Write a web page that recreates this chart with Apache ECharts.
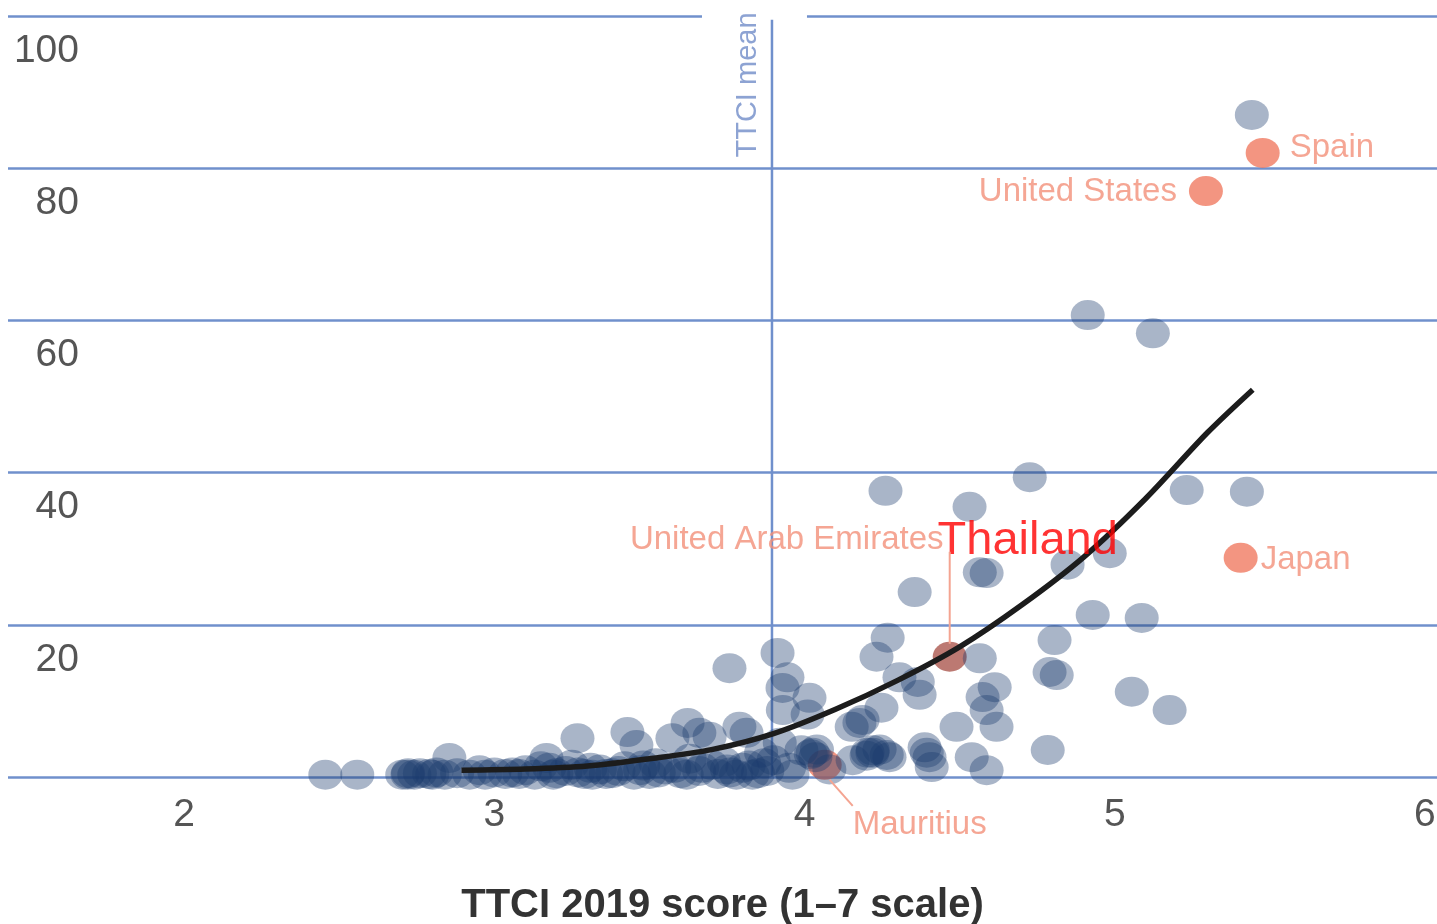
<!DOCTYPE html>
<html>
<head>
<meta charset="utf-8">
<title>TTCI 2019 score vs. tourism</title>
<script src="https://cdn.jsdelivr.net/npm/echarts@6/dist/echarts.min.js"></script>
<style>
  html, body { margin: 0; padding: 0; background: #ffffff; }
  #chart { width: 1437px; height: 924px; }
</style>
</head>
<body>
<div id="chart"></div>
<script>
// Tick values
const xTicks = [2, 3, 4, 5, 6];
const yTicks = [0, 20, 40, 60, 80, 100];

// Mean TTCI score (vertical reference line)
const ttciMean = 3.895;

// All countries: [TTCI score, value]
const countries = [
  [2.455, 0.3], [2.558, 0.3], [2.703, 0.3], [2.72, 0.3], [2.722, 0.5], [2.742, 0.3],
  [2.76, 0.5], [2.79, 0.4], [2.8, 0.3], [2.813, 0.6], [2.84, 0.3], [2.855, 2.5],
  [2.88, 0.5], [2.92, 0.3], [2.952, 0.9], [2.97, 0.3], [3.0, 0.6], [3.035, 0.4],
  [3.058, 0.6], [3.08, 0.4], [3.1, 0.9], [3.13, 0.3], [3.15, 1.4], [3.168, 2.5],
  [3.177, 1.2], [3.19, 0.3], [3.2, 0.5], [3.23, 0.8], [3.25, 1.6], [3.268, 5.1],
  [3.27, 0.6], [3.29, 0.4], [3.31, 1.2], [3.316, 0.3], [3.34, 1.0], [3.36, 0.4],
  [3.38, 0.5], [3.4, 0.8], [3.42, 1.4], [3.429, 5.9], [3.45, 0.3], [3.458, 4.2],
  [3.47, 0.9], [3.48, 1.5], [3.5, 0.4], [3.52, 1.8], [3.53, 0.6], [3.55, 1.0],
  [3.574, 5.1], [3.58, 1.2], [3.6, 0.5], [3.62, 0.3], [3.623, 7.1], [3.63, 2.4],
  [3.661, 5.8], [3.66, 0.8], [3.67, 1.2], [3.694, 5.3], [3.7, 1.6], [3.72, 0.4],
  [3.74, 2.0], [3.75, 1.0], [3.758, 14.3], [3.76, 0.6], [3.78, 0.3], [3.79, 6.6],
  [3.8, 1.2], [3.813, 5.8], [3.82, 1.5], [3.832, 0.3], [3.85, 0.5], [3.86, 3.2],
  [3.87, 1.8], [3.88, 0.8], [3.9, 2.2], [3.913, 16.3], [3.92, 4.5], [3.929, 11.7],
  [3.93, 8.8], [3.945, 13.1], [3.95, 1.2], [3.961, 0.3], [3.99, 3.5], [4.01, 8.2],
  [4.016, 10.4], [4.02, 3.0], [4.026, 3.2], [4.035, 2.6], [4.04, 3.6], [4.08, 1.0],
  [4.152, 6.6], [4.155, 2.2], [4.177, 7.1], [4.187, 7.5], [4.2, 2.8], [4.203, 3.2],
  [4.219, 3.2], [4.22, 3.5], [4.232, 15.8], [4.242, 3.6], [4.248, 9.1], [4.261, 37.6],
  [4.265, 2.9], [4.268, 18.3], [4.274, 2.6], [4.306, 13.1], [4.355, 24.3], [4.365, 12.5],
  [4.371, 10.8], [4.387, 3.9], [4.394, 3.2], [4.403, 2.6], [4.41, 1.3], [4.49, 6.6],
  [4.532, 35.5], [4.539, 2.6], [4.565, 15.6], [4.565, 26.9], [4.574, 10.5], [4.587, 26.8],
  [4.587, 8.8], [4.587, 0.9], [4.613, 11.8], [4.619, 6.6], [4.726, 39.4], [4.784, 3.55],
  [4.79, 13.8], [4.806, 18.0], [4.813, 13.4], [4.848, 27.9], [4.913, 60.7], [4.929, 21.3],
  [4.984, 29.4], [5.055, 11.2], [5.087, 20.9], [5.123, 58.3], [5.177, 8.8], [5.232, 37.7],
  [5.426, 37.5], [5.442, 87.0]
];

// Highlighted countries
const highlightNames = ['Mauritius', 'United Arab Emirates', 'Japan', 'United States', 'Spain'];
const highlightValues = [[4.065, 1.6], [4.468, 15.8], [5.406, 28.8], [5.294, 77.0], [5.477, 82.0]];

// Fitted trend curve
const fitCurve = [
  [2.894, 0.9], [3.1, 1.05], [3.3, 1.45], [3.5, 2.4], [3.7, 3.6], [3.9, 5.7],
  [4.1, 8.9], [4.3, 12.7], [4.5, 17.1], [4.7, 22.6], [4.9, 28.9], [5.1, 36.6],
  [5.3, 45.3], [5.445, 50.9]
];

const FONT = '"Liberation Sans", Arial, Helvetica, sans-serif';
const GRID_BLUE = '#7090cc';
const SALMON = '#f07a62';
const SALMON_TEXT = '#f39079';

const labelLayout = {
  'Spain': { position: 'right', distance: 10, offset: [0, -5] },
  'United States': { position: 'left', distance: 12, offset: [0, 1] },
  'Japan': { position: 'right', distance: 3, offset: [0, 2] },
  'United Arab Emirates': { position: 'inside', offset: [-163, -117] },
  'Mauritius': { position: 'inside', offset: [95, 60] }
};

const highlightData = highlightNames.map((name, i) => ({
  name: name,
  value: highlightValues[i],
  itemStyle: { color: name === 'United Arab Emirates' ? '#ab584f' : SALMON },
  label: Object.assign({
    show: true,
    formatter: name,
    color: SALMON_TEXT,
    fontSize: 33,
    fontFamily: FONT
  }, labelLayout[name])
}));

const uaeIndex = highlightNames.indexOf('United Arab Emirates');

const chart = echarts.init(document.getElementById('chart'), null, { renderer: 'canvas' });

const option = {
  animation: false,
  backgroundColor: '#ffffff',
  grid: { left: 8, right: 0, top: 16, bottom: 147, containLabel: false, outerBoundsMode: 'none' },
  xAxis: {
    type: 'value',
    min: 1.432,
    max: 6.039,
    axisLine: { show: false },
    axisTick: { show: false },
    splitLine: { show: false },
    axisLabel: {
      customValues: xTicks,
      color: '#555555',
      fontSize: 39,
      fontFamily: FONT,
      margin: 19
    },
    name: 'TTCI 2019 score (1–7 scale)',
    nameLocation: 'middle',
    nameGap: 109,
    nameTextStyle: {
      color: '#333333',
      fontSize: 40,
      fontWeight: 'bold',
      fontFamily: FONT
    }
  },
  yAxis: {
    type: 'value',
    min: yTicks[0],
    max: yTicks[yTicks.length - 1],
    interval: 20,
    axisLine: { show: false },
    axisTick: { show: false },
    splitLine: { show: true, lineStyle: { color: GRID_BLUE, width: 2.5 } },
    axisLabel: {
      inside: true,
      margin: 4,
      padding: [70, 0, 0, 0],
      color: '#555555',
      fontSize: 39,
      fontFamily: FONT,
      formatter: v => (v === 0 ? '' : '{a|' + v + '}'),
      rich: { a: { width: 67, align: 'right', fontSize: 39, fontFamily: FONT, color: '#555555' } }
    }
  },
  series: [
    {
      name: 'TTCI mean',
      type: 'line',
      z: 1,
      symbol: 'none',
      silent: true,
      lineStyle: { color: GRID_BLUE, width: 2.5 },
      data: [[ttciMean, 0], [ttciMean, 99.5]]
    },
    {
      name: 'Highlighted',
      type: 'scatter',
      z: 2,
      clip: false,
      symbol: 'circle',
      symbolSize: [34, 30],
      data: highlightData
    },
    {
      name: 'Countries',
      type: 'scatter',
      z: 3,
      symbol: 'circle',
      symbolSize: [34, 30],
      itemStyle: { color: 'rgba(26, 58, 110, 0.47)' },
      data: countries
    },
    {
      name: 'Trend',
      type: 'line',
      z: 4,
      smooth: 0.3,
      symbol: 'none',
      silent: true,
      lineStyle: { color: '#1c1c1c', width: 5.5 },
      data: fitCurve
    },
    {
      name: 'Thailand',
      type: 'scatter',
      z: 6,
      clip: false,
      symbolSize: 0,
      silent: true,
      data: [highlightValues[uaeIndex]],
      label: {
        show: true,
        position: 'inside',
        offset: [78, -116],
        formatter: 'Thailand',
        color: '#ff0000',
        fontSize: 47,
        fontFamily: FONT
      }
    }
  ]
};

chart.setOption(option);

// Decorations positioned from the axis scales
const toPx = v => chart.convertToPixel({ gridIndex: 0 }, v);
const meanTop = toPx([ttciMean, 100]);
const uae = toPx(highlightValues[uaeIndex]);
const mau = toPx(highlightValues[highlightNames.indexOf('Mauritius')]);

chart.setOption({
  graphic: [
    {
      type: 'rect',
      z: 100,
      silent: true,
      shape: { x: meanTop[0] - 70, y: meanTop[1] - 8, width: 105, height: 11 },
      style: { fill: '#ffffff' }
    },
    {
      type: 'text',
      z: 101,
      silent: true,
      x: meanTop[0] - 24,
      y: meanTop[1] + 69,
      rotation: Math.PI / 2,
      style: {
        text: 'TTCI mean',
        fill: '#8da3d3',
        font: '29px ' + FONT,
        align: 'center',
        verticalAlign: 'middle'
      }
    },
    {
      type: 'line',
      z: 101,
      silent: true,
      shape: { x1: uae[0], y1: uae[1] - 105, x2: uae[0], y2: uae[1] - 13 },
      style: { stroke: '#f4a491', lineWidth: 2 }
    },
    {
      type: 'line',
      z: 101,
      silent: true,
      shape: { x1: mau[0] + 5, y1: mau[1] + 15, x2: mau[0] + 28, y2: mau[1] + 41 },
      style: { stroke: '#f4a491', lineWidth: 2 }
    }
  ]
});
</script>
</body>
</html>
